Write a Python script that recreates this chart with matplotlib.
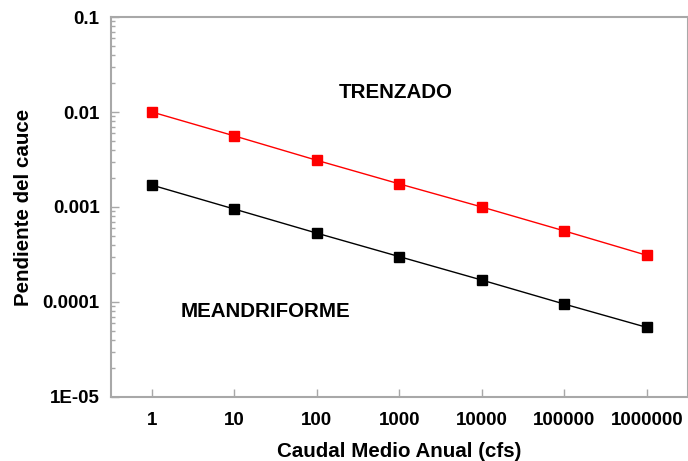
import numpy as np
import matplotlib
matplotlib.use('Agg')
import matplotlib.pyplot as plt
from matplotlib.ticker import FixedLocator, LogLocator, NullFormatter

plt.rcParams['font.family'] = ['Liberation Sans', 'DejaVu Sans']
plt.rcParams['font.weight'] = 'bold'

caudal = [1, 10, 100, 1000, 10000, 100000, 1000000]
trenzado = [0.0100, 0.0056, 0.0031, 0.00175, 0.0010, 0.00056, 0.00031]
meandriforme = [0.0017, 0.00095, 0.00053, 0.00030, 0.00017, 0.000095, 0.000054]

xTickLabels = ['1', '10', '100', '1000', '10000', '100000', '1000000']
yTicks = [1e-5, 1e-4, 1e-3, 1e-2, 1e-1]
yTickLabels = ['1E-05', '0.0001', '0.001', '0.01', '0.1']

fig = plt.figure(figsize=(6.88, 4.61), dpi=100)
ax = fig.add_axes([0.161, 0.139, 0.839, 0.824])

ax.plot(caudal, trenzado, color='#ff0000', lw=1, marker='s', ms=7.5)
ax.plot(caudal, meandriforme, color='black', lw=1, marker='s', ms=7.5)

ax.set_xscale('log')
ax.set_yscale('log')
ax.set_xlim(10 ** -0.5, 10 ** 6.5)
ax.set_ylim(1e-5, 1e-1)

ax.xaxis.set_major_locator(FixedLocator(caudal))
ax.set_xticklabels(xTickLabels)
ax.xaxis.set_minor_locator(FixedLocator([]))
ax.yaxis.set_major_locator(FixedLocator(yTicks))
ax.set_yticklabels(yTickLabels)
ax.yaxis.set_minor_locator(LogLocator(base=10, subs=np.arange(2, 10)))
ax.yaxis.set_minor_formatter(NullFormatter())

spineColor = '#a8a8a8'
for s in ax.spines.values():
    s.set_color(spineColor)
    s.set_linewidth(1.5)
ax.tick_params(which='both', direction='in', color=spineColor, width=1)
ax.tick_params(which='major', length=6, labelsize=13.5, pad=8)
ax.tick_params(which='minor', length=3)
ax.tick_params(axis='x', pad=11)

ax.text(900, 0.016, 'TRENZADO', ha='center', va='center', fontsize=14.8, fontweight='bold')
ax.text(24, 7.9e-5, 'MEANDRIFORME', ha='center', va='center', fontsize=14.8, fontweight='bold')

ax.set_xlabel('Caudal Medio Anual (cfs)', fontsize=14.8, fontweight='bold', labelpad=9)
ax.set_ylabel('Pendiente del cauce', fontsize=14.8, fontweight='bold', labelpad=7)

fig.savefig('out.png', dpi=100)
